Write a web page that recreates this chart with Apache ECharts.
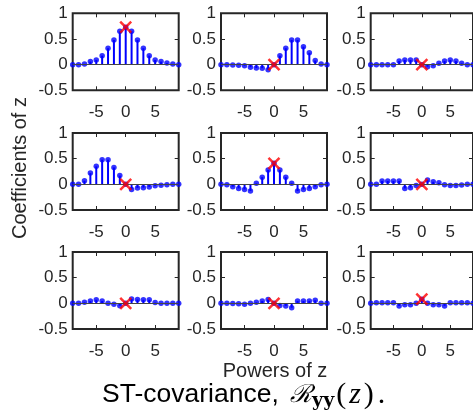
<!DOCTYPE html>
<html><head><meta charset="utf-8">
<script src="https://cdn.jsdelivr.net/npm/echarts@6/dist/echarts.min.js"></script>
<style>html,body{margin:0;padding:0;background:#fff}#c{width:473px;height:414px}</style>
</head><body><div id="c"></div>
<script>
// Powers of z (lags) and tick values
const powers = [-9,-8,-7,-6,-5,-4,-3,-2,-1,0,1,2,3,4,5,6,7,8,9];
const xTicks = [-5, 0, 5];
// Coefficients for each panel (row, column)
const r11 = [0, 0, 0.01, 0.06, 0.09, 0.175, 0.32, 0.48, 0.65, 0.73, 0.65, 0.48, 0.32, 0.175, 0.09, 0.06, 0.03, 0.01, 0];
const r12 = [0, 0, -0.005, -0.01, -0.02, -0.05, -0.065, -0.07, -0.1, 0, 0.175, 0.32, 0.48, 0.48, 0.35, 0.23, 0.08, 0.01, 0];
const r13 = [0, 0, 0, 0, 0, 0.07, 0.09, 0.09, 0.09, 0, -0.04, -0.02, 0.025, 0.07, 0.09, 0.07, 0.025, 0, 0];
const r21 = [0, 0, 0.07, 0.22, 0.35, 0.48, 0.48, 0.33, 0.17, 0, -0.1, -0.07, -0.065, -0.05, -0.03, -0.02, -0.01, 0, 0];
const r22 = [0, -0.01, -0.045, -0.08, -0.1, -0.13, 0.02, 0.14, 0.28, 0.41, 0.28, 0.14, 0.02, -0.13, -0.1, -0.08, -0.045, -0.01, 0];
const r23 = [0, 0, 0.065, 0.065, 0.065, 0.065, -0.08, -0.065, -0.025, 0, 0.085, 0.05, 0.03, -0.01, -0.025, -0.025, -0.015, 0, 0];
const r31 = [0, 0, 0.02, 0.045, 0.07, 0.045, 0, -0.02, -0.045, 0, 0.085, 0.075, 0.07, 0.07, 0.015, 0, 0, 0, 0];
const r32 = [0, 0, -0.005, -0.01, -0.02, 0, 0.02, 0.045, 0.075, 0, -0.04, -0.05, -0.085, 0.045, 0.045, 0.045, 0.06, 0, 0];
const r33 = [0, 0.01, 0.01, 0.01, 0.01, -0.05, -0.03, -0.03, 0, 0.08, 0, -0.03, -0.03, -0.05, 0.01, 0.01, 0.01, 0.01, 0];

const panels = [[r11, r12, r13], [r21, r22, r23], [r31, r32, r33]];

const chart = echarts.init(document.getElementById('c'), null, {renderer: 'canvas'});
const FONT = '"Liberation Sans", Arial, Helvetica, sans-serif';
const TXT = '#262626';
const colLeft = [72.7, 221, 370.7];
const rowTop = [13.3, 133, 252];
const W = 106, H = 77;

const grid = [], xAxis = [], yAxis = [], series = [];
let gi = 0;
for (let r = 0; r < 3; r++) {
  for (let c = 0; c < 3; c++) {
    const arr = panels[r][c];
    grid.push({left: colLeft[c], top: rowTop[r], width: W, height: H, show: true,
      borderColor: TXT, borderWidth: 2, backgroundColor: '#fff', containLabel: false});
    const tickCommon = {inside: true, length: 4, lineStyle: {color: TXT, width: 1}};
    const noLine = {show: false, onZero: false};
    xAxis.push({gridIndex: gi, type: 'value', min: -9, max: 9, position: 'bottom',
      axisLine: noLine, splitLine: {show: false},
      axisTick: Object.assign({customValues: xTicks}, tickCommon),
      axisLabel: {customValues: xTicks, fontSize: 17, color: TXT, fontFamily: FONT, margin: 14}});
    xAxis.push({gridIndex: gi, type: 'value', min: -9, max: 9, position: 'top',
      axisLine: noLine, splitLine: {show: false},
      axisTick: Object.assign({customValues: xTicks}, tickCommon),
      axisLabel: {show: false}});
    yAxis.push({gridIndex: gi, type: 'value', min: -0.5, max: 1, interval: 0.5, position: 'left',
      axisLine: noLine, splitLine: {show: false},
      axisTick: tickCommon,
      axisLabel: {fontSize: 17, color: TXT, fontFamily: FONT, margin: 5}});
    yAxis.push({gridIndex: gi, type: 'value', min: -0.5, max: 1, interval: 0.5, position: 'right',
      axisLine: noLine, splitLine: {show: false},
      axisTick: tickCommon, axisLabel: {show: false}});
    const pts = powers.map((p, k) => [p, arr[k]]);
    const xi = 2 * gi, yi = 2 * gi;
    series.push({type: 'custom', xAxisIndex: xi, yAxisIndex: yi, data: pts, z: 3,
      renderItem: function (params, api) {
        const p0 = api.coord([api.value(0), 0]);
        const p1 = api.coord([api.value(0), api.value(1)]);
        return {type: 'line', shape: {x1: p0[0], y1: p0[1], x2: p1[0], y2: p1[1]},
          style: {stroke: '#0000ff', lineWidth: 2}};
      }});
    series.push({type: 'scatter', xAxisIndex: xi, yAxisIndex: yi, data: pts, z: 4,
      symbol: 'circle', symbolSize: 5.5, itemStyle: {color: '#0000ff'}, silent: true,
      markLine: {silent: true, symbol: 'none', label: {show: false}, animation: false,
        lineStyle: {color: '#444', width: 1, type: 'solid'}, data: [{yAxis: 0}]}});
    const k0 = powers.indexOf(0);
    series.push({type: 'scatter', xAxisIndex: xi, yAxisIndex: yi, data: [[0, arr[k0]]], z: 6,
      symbol: 'path://M0,0L10,10M10,0L0,10', symbolSize: 11, silent: true,
      itemStyle: {color: 'none', borderColor: '#ff0000', borderWidth: 2.5}});
    gi++;
  }
}

const SERIF = '"DejaVu Serif", "Liberation Serif", serif';
const LSERIF = '"Liberation Serif", serif';
const option = {
  animation: false,
  backgroundColor: '#fff',
  grid, xAxis, yAxis, series,
  graphic: [
    {type: 'text', x: 20, y: 168, rotation: Math.PI / 2,
      style: {text: 'Coefficients of z', fontSize: 20, fontFamily: FONT, fill: TXT,
        align: 'center', verticalAlign: 'middle'}},
    {type: 'text', x: 275, y: 371,
      style: {text: 'Powers of z', fontSize: 20, fontFamily: FONT, fill: TXT,
        align: 'center', verticalAlign: 'middle'}},
    {type: 'text', x: 102, y: 379,
      style: {text: '{a|ST-covariance, }{r|ℛ}{s|yy}{m|(}{i|z}{m|)}{d|.}',
        fill: '#000', verticalAlign: 'top',
        rich: {
          a: {fontSize: 26.5, fontFamily: FONT, lineHeight: 32, fill: '#000'},
          r: {fontSize: 25, fontFamily: SERIF, fontStyle: 'italic', lineHeight: 32, padding: [0, 0, 0, 4], fill: '#000'},
          s: {fontSize: 19, fontFamily: SERIF, fontWeight: 'bold', lineHeight: 14, verticalAlign: 'bottom', padding: [0, 2, 0, 0], fill: '#000'},
          m: {fontSize: 30, fontFamily: LSERIF, lineHeight: 32, fill: '#000'},
          i: {fontSize: 30, fontFamily: LSERIF, fontStyle: 'italic', lineHeight: 32, padding: [0, 3, 0, 3], fill: '#000'},
          d: {fontSize: 30, fontFamily: LSERIF, lineHeight: 32, padding: [0, 0, 0, 4], fill: '#000'}
        }}}
  ]
};
chart.setOption(option);
</script>
</body></html>
